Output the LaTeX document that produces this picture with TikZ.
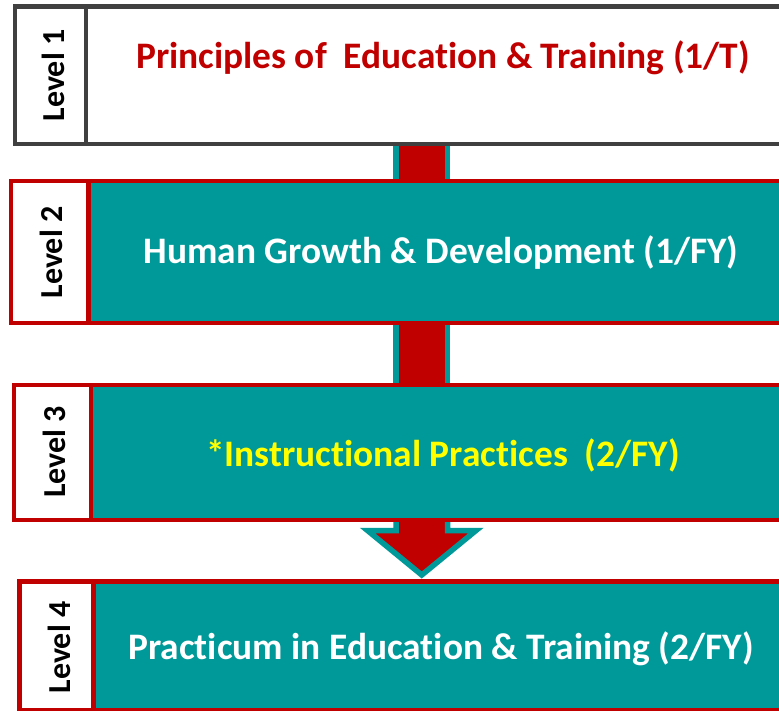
\documentclass[tikz,border=0pt]{standalone}
\usepackage{fontspec}
\setmainfont{Carlito}[Ligatures=NoCommon]
\definecolor{tealc}{RGB}{0,153,153}
\definecolor{redc}{RGB}{192,0,0}
\definecolor{grayc}{RGB}{64,64,64}
\definecolor{yelc}{RGB}{255,255,0}
\begin{document}
\begin{tikzpicture}[x=1pt,y=-1pt,
  title/.style={font=\fontsize{37.4}{40}\selectfont\bfseries, inner sep=0pt, anchor=center},
  lvl/.style={font=\fontsize{32}{34}\selectfont\bfseries, rotate=90, inner sep=0pt, text=black},
  shaft/.style={draw=tealc, fill=redc, line width=5.5pt},
  grayframe/.style={draw=grayc, line width=4.5pt},
  redframe/.style={draw=redc, line width=4.5pt}]
\useasboundingbox (0,0) rectangle (779,711);
\clip (0,0) rectangle (779,711);
\fill[white] (0,0) rectangle (779,711);

% arrow shafts and head (behind the boxes)
\coordinate (a1t) at (396,135);
\coordinate (a1b) at (447.5,190);
\coordinate (a2t) at (396,315);
\coordinate (a2b) at (447.5,392);
\draw[shaft] (a1t) rectangle (a1b);
\draw[shaft] (a2t) rectangle (a2b);
\coordinate (tip) at (421.75,575);
\draw[shaft] (396,512) -- (396,530.5) -- (367.5,530.5) -- (tip) -- (476,530.5) -- (447.5,530.5) -- (447.5,512) -- cycle;

% level 1
\fill[white] (15,6.5) rectangle (800,144);
\draw[grayframe] (15,6.5) rectangle (800,144);
\draw[grayframe] (86,6.5) -- (86,144);
\node[lvl] (l1) at (53.5,75.5) {Level 1};
\node[title, text=redc] (t1) at (443,57.5) {Principles of\ \ Education \& Training (1/T)};

% level 2
\fill[white] (11,181) rectangle (88.5,323);
\fill[tealc] (88.5,181) rectangle (800,323);
\draw[redframe] (11,181) rectangle (800,323);
\draw[redframe] (88.5,181) -- (88.5,323);
\node[lvl] (l2) at (51,252.5) {Level 2};
\node[title, text=white] (t2) at (441,253) {Human Growth \& Development (1/FY)};

% level 3
\fill[white] (14,385) rectangle (91,520);
\fill[tealc] (91,385) rectangle (800,520);
\draw[redframe] (14,385) rectangle (800,520);
\draw[redframe] (91,385) -- (91,520);
\node[lvl] (l3) at (54,452) {Level 3};
\node[title, text=yelc] (t3) at (443,455) {*Instructional Practices\ \ (2/FY)};

% level 4
\fill[white] (19.5,581.5) rectangle (93.5,710);
\fill[tealc] (93.5,581.5) rectangle (800,710);
\draw[redframe] (19.5,581.5) rectangle (800,710);
\draw[redframe] (93.5,581.5) -- (93.5,710);
\node[lvl] (l4) at (59,647.5) {Level 4};
\node[title, text=white] (t4) at (441,649) {Practicum in Education \& Training (2/FY)};
\end{tikzpicture}
\end{document}
